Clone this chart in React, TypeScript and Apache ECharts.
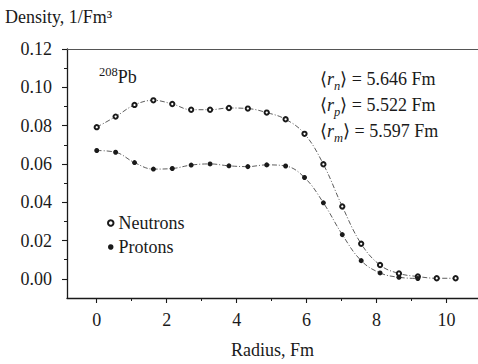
import React, { useEffect, useRef } from "react";
import * as echarts from "echarts";

const radius = [0, 0.54, 1.08, 1.62, 2.16, 2.7, 3.24, 3.78, 4.32, 4.86, 5.4, 5.94, 6.48, 7.02, 7.56, 8.1, 8.64, 9.18, 9.72, 10.26];
const neutrons = [0.0792, 0.0847, 0.0908, 0.0932, 0.0913, 0.0883, 0.0883, 0.0892, 0.0889, 0.0868, 0.0833, 0.0757, 0.0598, 0.0378, 0.0183, 0.0072, 0.0028, 0.0012, 0.0003, 0.0003];
const protons = [0.067, 0.0661, 0.0607, 0.0573, 0.0576, 0.0594, 0.06, 0.059, 0.0586, 0.0595, 0.0589, 0.0529, 0.0397, 0.0231, 0.0095, 0.0031, 0.0008, 0.0002];
const xMajor = [0, 2, 4, 6, 8, 10];
const xMinor = [1, 3, 5, 7, 9];
const yMajor = [0, 0.02, 0.04, 0.06, 0.08, 0.1, 0.12];
const yMinor = [0.01, 0.03, 0.05, 0.07, 0.09, 0.11];
const radii = [
  { sub: "n", value: "5.646 Fm" },
  { sub: "p", value: "5.522 Fm" },
  { sub: "m", value: "5.597 Fm" },
];

const FONT = "Liberation Serif";
const FS = 18;
const INK = "#1a1a1a";

export default function App() {
  const ref = useRef<HTMLDivElement>(null);
  useEffect(() => {
    if (!ref.current) return;
    const chart = echarts.init(ref.current, undefined, { renderer: "svg" });
    const nData = radius.map((r, i) => [r, neutrons[i]]);
    const pData = protons.map((v, i) => [radius[i], v]);
    const xBase = { type: "value", min: -0.85, max: 10.9, splitLine: { show: false } };
    const yBase = { type: "value", min: -0.01, max: 0.12, splitLine: { show: false } };
    chart.setOption({
      animation: false,
      backgroundColor: "#fff",
      textStyle: { fontFamily: FONT, color: INK },
      grid: { left: 67, top: 49, right: 0, bottom: 65 },
      xAxis: [
        {
          ...xBase,
          position: "bottom",
          name: "Radius, Fm",
          nameLocation: "middle",
          nameGap: 43,
          nameTextStyle: { fontFamily: FONT, fontSize: FS, color: INK },
          axisLine: { show: true, onZero: false, lineStyle: { color: INK, width: 1.3 } },
          axisTick: { show: true, customValues: xMajor, length: 5, lineStyle: { color: INK, width: 1.1 } },
          axisLabel: { customValues: xMajor, margin: 13, fontFamily: FONT, fontSize: FS, color: INK },
        },
        {
          ...xBase,
          position: "bottom",
          axisLine: { show: false, onZero: false },
          axisTick: { show: true, customValues: xMinor, length: 3, lineStyle: { color: INK, width: 1 } },
          axisLabel: { show: false },
        },
        {
          ...xBase,
          position: "top",
          axisLine: { show: true, onZero: false, lineStyle: { color: "#555", width: 1 } },
          axisTick: { show: false },
          axisLabel: { show: false },
        },
      ],
      yAxis: [
        {
          ...yBase,
          position: "left",
          axisLine: { show: true, onZero: false, lineStyle: { color: INK, width: 1.3 } },
          axisTick: { show: true, customValues: yMajor, length: 5, lineStyle: { color: INK, width: 1.1 } },
          axisLabel: {
            customValues: yMajor,
            margin: 15,
            fontFamily: FONT,
            fontSize: FS,
            color: INK,
            formatter: (v: number) => v.toFixed(2),
          },
        },
        {
          ...yBase,
          position: "left",
          axisLine: { show: false, onZero: false },
          axisTick: { show: true, customValues: yMinor, length: 3, lineStyle: { color: INK, width: 1 } },
          axisLabel: { show: false },
        },
      ],
      legend: {
        orient: "vertical",
        left: 102,
        top: 209,
        itemWidth: 5.5,
        itemHeight: 5.5,
        itemGap: 6,
        textStyle: { fontFamily: FONT, fontSize: FS, color: INK },
        data: [
          { name: "Neutrons", icon: "emptyCircle" },
          { name: "Protons", icon: "circle" },
        ],
      },
      graphic: [
        {
          type: "text",
          left: 5,
          top: 8,
          style: { text: "Density, 1/Fm³", fontFamily: FONT, fontSize: FS, fill: INK },
        },
        {
          type: "text",
          x: 99,
          y: 77,
          style: {
            text: "{s|208}{m|Pb}",
            verticalAlign: "middle",
            rich: {
              s: { fontFamily: FONT, fontSize: 12.5, fill: INK, verticalAlign: "top", lineHeight: 24 },
              m: { fontFamily: FONT, fontSize: FS, fill: INK, lineHeight: 24 },
            },
          },
        },
        ...radii.map((r, i) => ({
          type: "text",
          x: 320,
          y: 79 + i * 26,
          style: {
            text: `{m|⟨}{i|r}{s|${r.sub}}{m|⟩ = ${r.value}}`,
            verticalAlign: "middle",
            rich: {
              m: { fontFamily: FONT, fontSize: FS, fill: INK, lineHeight: 26 },
              i: { fontFamily: FONT, fontSize: FS, fontStyle: "italic", fill: INK, lineHeight: 26 },
              s: { fontFamily: FONT, fontSize: 12.5, fontStyle: "italic", fill: INK, verticalAlign: "bottom", lineHeight: 26 },
            },
          },
        })),
      ],
      series: [
        {
          name: "Neutrons",
          type: "line",
          data: nData,
          smooth: 0.4,
          symbol: "emptyCircle",
          symbolSize: 4.3,
          lineStyle: { color: "#333", width: 0.8, type: [5, 2, 1, 2] },
          itemStyle: { color: INK, borderWidth: 0.7 },
        },
        {
          name: "Protons",
          type: "line",
          data: pData,
          smooth: 0.4,
          symbol: "circle",
          symbolSize: 5,
          lineStyle: { color: "#333", width: 0.8, type: [5, 2, 1, 2] },
          itemStyle: { color: INK },
        },
      ],
    });
    return () => chart.dispose();
  }, []);
  return (
    <div
      ref={ref}
      style={{ position: "fixed", left: 0, top: 0, width: 478, height: 364, background: "#fff" }}
    />
  );
}
